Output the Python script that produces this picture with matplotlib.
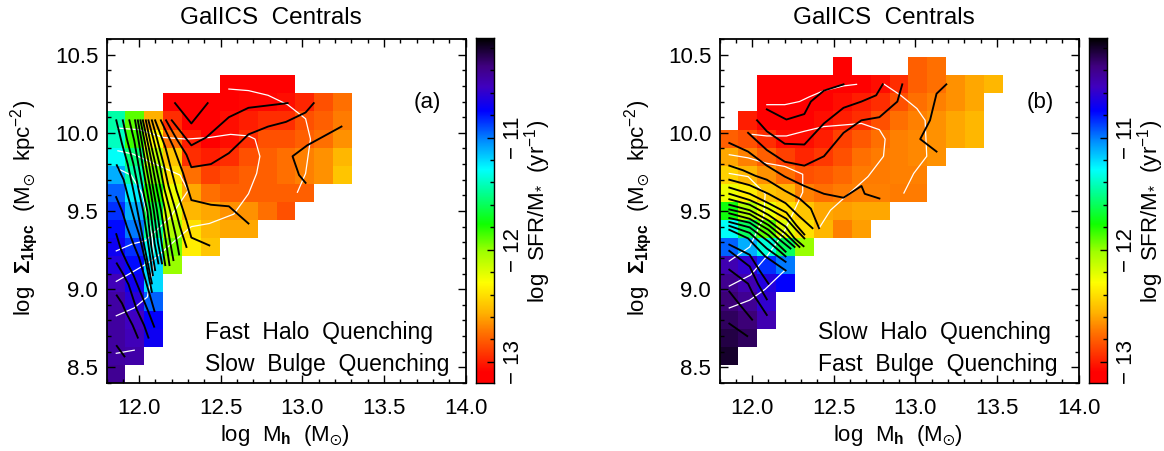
import numpy as np
import matplotlib
matplotlib.use('Agg')
import matplotlib.pyplot as plt
from matplotlib.colors import LinearSegmentedColormap

plt.rcParams['font.family'] = ['Liberation Sans', 'DejaVu Sans']
plt.rcParams['mathtext.fontset'] = 'custom'
plt.rcParams['mathtext.rm'] = 'Liberation Sans'
plt.rcParams['mathtext.bf'] = 'Liberation Sans:bold'
plt.rcParams['mathtext.it'] = 'Liberation Sans'
plt.rcParams['mathtext.default'] = 'regular'

nan = np.nan

# top row of the grid first, start = index of the first filled column
starts_a = [0, 0, 6, 3, 0, 0, 0, 0, 0, 0, 0, 0, 0, 0, 0, 0, 0, 0, 0]
rows_a = [
    [], [],
    [-13.15, -13.15, -13.15, -13.15],
    [-13.12, -13.12, -13.12, -13.1, -13.08, -13.08, -13.05, -12.98, -12.85, -12.75],
    [-11.45, -11.9, -12.57, -12.95, -13.1, -13.12, -13.05, -13.0, -12.95, -12.95, -12.85, -12.8, -12.72],
    [-11.4, -11.85, -12.3, -12.75, -13.0, -13.1, -13.05, -12.95, -12.85, -12.85, -12.8, -12.75, -12.65],
    [-11.3, -11.55, -12.1, -12.5, -12.95, -13.0, -12.95, -12.85, -12.8, -12.75, -12.7, -12.65, -12.55],
    [-11.1, -11.45, -11.95, -12.4, -12.75, -12.9, -12.85, -12.8, -12.8, -12.75, -12.7, -12.65, -12.5],
    [-10.95, -11.25, -11.8, -12.25, -12.6, -12.75, -12.8, -12.8, -12.8, -12.8, -12.8],
    [-10.85, -11.1, -11.65, -12.2, -12.55, -12.6, -12.65, -12.65, -12.75, -12.85],
    [-10.78, -11.0, -11.5, -12.05, -12.4, -12.55, -12.6, -12.6],
    [-10.72, -10.85, -11.3, -11.95, -12.35, -12.5],
    [-10.65, -10.78, -11.2, -12.0],
    [-10.52, -10.7, -11.2],
    [-10.47, -10.62, -10.95],
    [-10.45, -10.55, -10.75],
    [-10.45, -10.52, -10.72],
    [-10.45, -10.48],
    [-10.42],
]
starts_b = [0, 6, 2, 2, 1, 0, 0, 0, 0, 0, 0, 0, 0, 0, 0, 0, 0, 0, 0]
rows_b = [
    [],
    [-13.15, nan, nan, nan, -12.8, -12.75],
    [-13.15, -13.15, -13.15, -13.15, -13.12, -13.1, -13.05, -12.95, -12.8, -12.75, -12.65, -12.6, -12.55],
    [-13.15, -13.15, -13.12, -13.1, -13.05, -13.0, -12.95, -12.85, -12.75, -12.7, -12.65, -12.6],
    [-13.0, -13.12, -13.12, -13.1, -13.05, -13.0, -12.95, -12.85, -12.75, -12.7, -12.65, -12.6, -12.55],
    [-12.8, -12.85, -12.95, -13.05, -13.05, -13.0, -12.9, -12.82, -12.75, -12.7, -12.68, -12.65, -12.6, -12.55],
    [-12.6, -12.7, -12.8, -12.9, -12.98, -12.92, -12.85, -12.75, -12.72, -12.7, -12.68, -12.65],
    [-12.45, -12.55, -12.65, -12.75, -12.85, -12.82, -12.78, -12.72, -12.72, -12.7, -12.7],
    [-12.25, -12.35, -12.5, -12.55, -12.7, -12.75, -12.72, -12.7, -12.7, -12.72, -12.72],
    [-11.75, -12.05, -12.25, -12.4, -12.5, -12.6, -12.62, -12.6, -12.6],
    [-11.3, -11.6, -11.9, -12.2, -12.4, -12.55, -12.7, -12.62],
    [-10.95, -11.1, -11.35, -11.6, -12.0],
    [-10.5, -10.6, -10.85, -11.0],
    [-10.4, -10.5, -10.65, -10.75],
    [-10.35, -10.42, -10.6],
    [-10.3, -10.35, -10.5],
    [-10.25, -10.3],
    [-10.2],
    [],
]

x_range = [11.8, 14.0]
y_range = [8.4, 10.6]
n_cells = 19
sfr_range = [-13.19, -10.11]

# black contours as (x list, y list), panel a
black_a = [
    ([12.22, 12.32, 12.42], [10.19, 10.06, 10.19]),
    ([12.20, 12.32, 12.41, 12.55, 12.67, 12.91], [10.08, 9.92, 9.97, 10.10, 10.16, 10.19]),
    ([12.165, 12.23, 12.29, 12.32, 12.44, 12.55, 12.67, 12.79, 12.90, 13.02, 13.07],
     [10.08, 9.96, 9.86, 9.78, 9.80, 9.87, 9.99, 10.04, 10.07, 10.13, 10.19]),
    ([13.24, 13.03, 12.94, 12.98, 13.02], [10.04, 9.92, 9.85, 9.73, 9.68]),
    ([12.133, 12.21, 12.27, 12.32, 12.44, 12.55, 12.67], [10.08, 9.91, 9.74, 9.57, 9.54, 9.53, 9.42]),
    ([12.098, 12.16, 12.23, 12.29, 12.32, 12.43], [10.08, 9.91, 9.63, 9.44, 9.33, 9.28]),
    ([12.078, 12.105, 12.15, 12.18, 12.225, 12.25, 12.29], [10.08, 9.98, 9.80, 9.66, 9.50, 9.40, 9.27]),
    ([12.057, 12.085, 12.125, 12.155, 12.19, 12.225, 12.245], [10.08, 9.97, 9.80, 9.64, 9.50, 9.34, 9.222]),
    ([12.041, 12.065, 12.10, 12.13, 12.16, 12.185, 12.21], [10.08, 9.96, 9.80, 9.65, 9.50, 9.33, 9.186]),
    ([12.023, 12.05, 12.08, 12.11, 12.135, 12.165, 12.186], [10.08, 9.95, 9.80, 9.63, 9.50, 9.30, 9.154]),
    ([12.008, 12.035, 12.06, 12.09, 12.11, 12.14, 12.16], [10.08, 9.94, 9.80, 9.62, 9.50, 9.28, 9.154]),
    ([11.992, 12.015, 12.04, 12.07, 12.09, 12.115, 12.14], [10.08, 9.95, 9.80, 9.63, 9.50, 9.30, 9.165]),
    ([11.975, 11.995, 12.02, 12.05, 12.07, 12.095, 12.118], [10.08, 9.96, 9.80, 9.62, 9.50, 9.29, 9.165]),
    ([11.94, 11.97, 11.995, 12.03, 12.05, 12.075, 12.098], [10.08, 9.95, 9.80, 9.60, 9.50, 9.27, 9.122]),
    ([11.90, 11.925, 11.965, 12.0, 12.025, 12.06, 12.084], [10.08, 9.96, 9.80, 9.62, 9.50, 9.26, 9.09]),
    ([11.86, 11.895, 11.93, 11.965, 11.99, 12.035, 12.078], [10.08, 9.93, 9.80, 9.63, 9.50, 9.26, 9.037]),
    ([11.863, 11.905, 11.93, 11.975, 12.0, 12.045, 12.078], [9.793, 9.70, 9.60, 9.43, 9.35, 9.15, 8.983]),
    ([11.859, 11.895, 11.925, 11.965, 12.0, 12.055, 12.094], [9.589, 9.50, 9.40, 9.29, 9.2, 9.0, 8.86]),
    ([11.86, 11.89, 11.93, 11.965, 12.0, 12.055, 12.092], [9.352, 9.25, 9.16, 9.09, 9.0, 8.86, 8.76]),
    ([11.863, 11.90, 11.935, 11.96, 11.985, 12.03, 12.057], [9.165, 9.10, 9.03, 8.95, 8.87, 8.77, 8.69]),
    ([11.863, 11.895, 11.92, 11.96, 11.992], [8.96, 8.91, 8.85, 8.77, 8.69]),
    ([11.863, 11.91], [8.637, 8.57]),
]
white_a = [
    ([12.55, 12.67, 12.79, 12.91, 13.02, 13.05, 13.02, 12.97], [10.28, 10.27, 10.24, 10.18, 10.09, 9.96, 9.74, 9.62]),
    ([11.87, 12.0, 12.15, 12.29, 12.43, 12.56, 12.67, 12.71, 12.74, 12.72, 12.67, 12.58, 12.43, 12.32, 12.23, 12.09, 11.96, 11.86],
     [10.03, 10.02, 9.97, 9.96, 9.97, 9.99, 9.98, 9.96, 9.85, 9.74, 9.61, 9.48, 9.42, 9.4, 9.32, 9.19, 9.11, 9.05]),
    ([11.87, 11.96, 12.10, 12.25, 12.30, 12.19, 12.04, 11.96, 11.86], [9.885, 9.865, 9.80, 9.73, 9.63, 9.46, 9.31, 9.29, 9.245]),
    ([11.87, 11.95, 12.02, 12.08, 12.09, 12.05, 11.97, 11.86], [9.77, 9.73, 9.61, 9.33, 9.16, 8.95, 8.88, 8.83]),
    ([11.86, 11.97], [8.59, 8.61]),
]

# panel b
black_b = [
    ([12.09, 12.21, 12.32, 12.36, 12.44, 12.56], [10.15, 10.085, 10.12, 10.2, 10.27, 10.31]),
    ([12.03, 12.09, 12.20, 12.32, 12.44, 12.56, 12.67, 12.76, 12.80], [10.08, 10.01, 9.93, 9.925, 10.06, 10.16, 10.2, 10.24, 10.31]),
    ([11.975, 12.09, 12.2, 12.32, 12.44, 12.56, 12.67, 12.78, 12.89, 12.92], [10.0, 9.89, 9.815, 9.79, 9.85, 10.0, 10.08, 10.1, 10.2, 10.31]),
    ([13.19, 13.13, 13.09, 13.03, 13.13], [10.31, 10.25, 10.08, 9.96, 9.88]),
    ([11.86, 11.975, 12.09, 12.2, 12.32, 12.44, 12.56, 12.67, 12.69, 12.78], [9.935, 9.88, 9.79, 9.72, 9.66, 9.61, 9.585, 9.66, 9.61, 9.58]),
    ([11.86, 11.945, 12.02, 12.09, 12.2, 12.29, 12.36, 12.41], [9.79, 9.76, 9.725, 9.7, 9.63, 9.58, 9.515, 9.39]),
    ([11.86, 11.985, 12.10, 12.205, 12.29, 12.37], [9.70, 9.665, 9.61, 9.55, 9.465, 9.39]),
    ([11.86, 11.985, 12.10, 12.21, 12.27, 12.32], [9.65, 9.61, 9.55, 9.49, 9.41, 9.35]),
    ([11.86, 11.985, 12.10, 12.21, 12.27, 12.32], [9.61, 9.57, 9.515, 9.45, 9.38, 9.325]),
    ([11.86, 11.985, 12.10, 12.205, 12.26, 12.315], [9.575, 9.54, 9.475, 9.40, 9.325, 9.275]),
    ([11.86, 11.985, 12.10, 12.205, 12.29], [9.54, 9.505, 9.44, 9.355, 9.27]),
    ([11.86, 11.985, 12.10, 12.19, 12.26], [9.51, 9.48, 9.41, 9.335, 9.27]),
    ([11.86, 11.985, 12.10, 12.17, 12.235], [9.485, 9.45, 9.38, 9.315, 9.26]),
    ([11.86, 11.985, 12.10, 12.205], [9.455, 9.425, 9.345, 9.24]),
    ([11.86, 11.985, 12.10, 12.205], [9.43, 9.395, 9.305, 9.21]),
    ([11.86, 11.985, 12.09, 12.205], [9.405, 9.36, 9.26, 9.175]),
    ([11.86, 11.975, 12.08, 12.205], [9.38, 9.325, 9.21, 9.12]),
    ([11.86, 11.985, 12.045, 12.10], [9.285, 9.22, 9.12, 9.035]),
    ([11.86, 11.985, 12.035, 12.09], [9.245, 9.145, 9.035, 8.935]),
    ([11.86, 11.975, 12.005, 12.09], [9.125, 9.035, 8.97, 8.835]),
    ([11.86, 11.925, 12.0], [8.985, 8.90, 8.805]),
    ([11.86, 11.97], [8.78, 8.70]),
]
white_b = [
    ([12.09, 12.2, 12.29, 12.35, 12.44, 12.56, 12.64], [10.18, 10.18, 10.2, 10.23, 10.27, 10.30, 10.31]),
    ([12.0, 12.09, 12.21, 12.32, 12.44, 12.56, 12.67, 12.78, 12.815, 12.805, 12.71, 12.56, 12.48, 12.41],
     [9.99, 9.98, 9.98, 10.01, 10.04, 10.05, 10.06, 10.02, 9.96, 9.85, 9.72, 9.58, 9.505, 9.39]),
    ([12.81, 12.91, 13.01, 13.06, 13.07, 12.99, 12.93], [10.31, 10.24, 10.155, 10.08, 9.85, 9.74, 9.615]),
    ([11.86, 11.975, 12.09, 12.2, 12.31, 12.31, 12.25, 12.19, 12.09, 11.99, 11.86], [9.86, 9.84, 9.805, 9.785, 9.735, 9.62, 9.485, 9.355, 9.21, 9.09, 9.02]),
    ([11.86, 11.975, 12.08, 12.07, 11.985, 11.86], [9.74, 9.72, 9.61, 9.46, 9.27, 9.18]),
    ([11.86, 11.985, 12.08, 12.19, 12.2], [8.88, 8.93, 9.0, 9.11, 9.12]),
]
speck_b = ([12.548, 12.553], [9.385, 9.385])

stops = [(0.0, '#ff0000'), (0.03, '#ff0000'), (0.15, '#ff7800'), (0.20, '#ffb000'), (0.29, '#ffff00'),
         (0.38, '#a0ff00'), (0.46, '#10ff00'), (0.56, '#00ffa0'), (0.62, '#00ffff'), (0.70, '#0090ff'),
         (0.79, '#0000ff'), (0.86, '#4000c0'), (0.92, '#400080'), (1.0, '#000000')]
cmap = LinearSegmentedColormap.from_list('sfr', stops, N=256)
cmap.set_bad('white')


def grid(starts, rows):
    z = np.full((n_cells, n_cells), np.nan)
    for i, (s, row) in enumerate(zip(starts, rows)):
        z[n_cells - 1 - i, s:s + len(row)] = row
    return z


def px_axes(left, top, right, bottom):
    return fig.add_axes([left / 1164, 1 - bottom / 451, (right - left) / 1164, (bottom - top) / 451])


def panel(left, rows, starts, black, white, tag, lines, title):
    ax = px_axes(left, 39, left + 359, 383)
    xe = np.linspace(x_range[0], x_range[1], n_cells + 1)
    ye = np.linspace(y_range[0], y_range[1], n_cells + 1)
    ax.pcolormesh(xe, ye, grid(starts, rows), cmap=cmap, vmin=sfr_range[0], vmax=sfr_range[1], rasterized=True)
    for xs, ys in white:
        ax.plot(xs, ys, color='white', lw=0.9)
    for xs, ys in black:
        ax.plot(xs, ys, color='black', lw=1.35)
    ax.set_xlim(x_range)
    ax.set_ylim(y_range)
    ax.set_xticks([12.0, 12.5, 13.0, 13.5, 14.0])
    ax.set_xticklabels(['12.0', '12.5', '13.0', '13.5', '14.0'])
    ax.set_yticks([8.5, 9.0, 9.5, 10.0, 10.5])
    ax.set_yticklabels(['8.5', '9.0', '9.5', '10.0', '10.5'])
    ax.set_xticks(np.arange(11.8, 14.01, 0.1), minor=True)
    ax.set_yticks(np.arange(8.4, 10.61, 0.1), minor=True)
    ax.tick_params(which='major', direction='in', top=True, right=True, length=5.5, width=1.0, labelsize=16)
    ax.tick_params(axis='x', which='major', pad=11)
    ax.tick_params(axis='y', which='major', pad=6)
    ax.tick_params(which='minor', direction='in', top=True, right=True, length=3, width=1.0)
    for s in ax.spines.values():
        s.set_linewidth(1.3)
    ax.text(13.765, 10.195, tag, fontsize=16, ha='center', va='center')
    ax.text(12.405, 8.725, lines[0], fontsize=16.5, ha='left', va='center')
    ax.text(12.405, 8.52, lines[1], fontsize=16.5, ha='left', va='center')
    fig.text((left + 164) / 1164, 1 - 18 / 451, title, fontsize=17.5, ha='center', va='center')
    fig.text((left + 178) / 1164, 1 - 435 / 451, r'log  M$_{\mathbf{h}}$  (M$_{\odot}$)', fontsize=16, ha='center', va='center')
    fig.text((left - 82) / 1164, 1 - 208 / 451, r'log  $\mathbf{\Sigma}_{\mathbf{1kpc}}$  (M$_{\odot}$  kpc$^{-2}$)',
             fontsize=16, rotation=90, ha='center', va='center')

    cb = px_axes(left + 369.5, 38, left + 387, 383)
    cb.imshow(np.linspace(sfr_range[1], sfr_range[0], 256).reshape(-1, 1), aspect='auto', cmap=cmap,
              vmin=sfr_range[0], vmax=sfr_range[1], extent=[0, 1, sfr_range[0], sfr_range[1]])
    cb.set_xticks([])
    cb.yaxis.tick_right()
    cb.set_yticks([-13, -12, -11])
    cb.set_yticklabels(['\u2212 13', '\u2212 12', '\u2212 11'], rotation=90, va='center')
    cb.set_yticks(np.arange(-13, -10.1, 0.2), minor=True)
    cb.tick_params(which='major', direction='in', length=5, width=1.0, labelsize=16, pad=7)
    cb.tick_params(which='minor', direction='in', length=3, width=1.0)
    for s in cb.spines.values():
        s.set_linewidth(1.0)
    fig.text((left + 431) / 1164, 1 - 211 / 451, r'log  SFR/M$_{*}$  (yr$^{-1}$)', fontsize=16, rotation=90,
             ha='center', va='center')
    return ax


fig = plt.figure(figsize=(11.64, 4.51), dpi=100)
ax_a = panel(106.5, rows_a, starts_a, black_a, white_a, '(a)', ['Fast  Halo  Quenching', 'Slow  Bulge  Quenching'], 'GalICS  Centrals')
ax_b = panel(719.5, rows_b, starts_b, black_b, white_b, '(b)', ['Slow  Halo  Quenching', 'Fast  Bulge  Quenching'], 'GalICS  Centrals')
ax_b.plot(speck_b[0], speck_b[1], color='black', lw=1.0)

fig.savefig('out.png', dpi=100)
